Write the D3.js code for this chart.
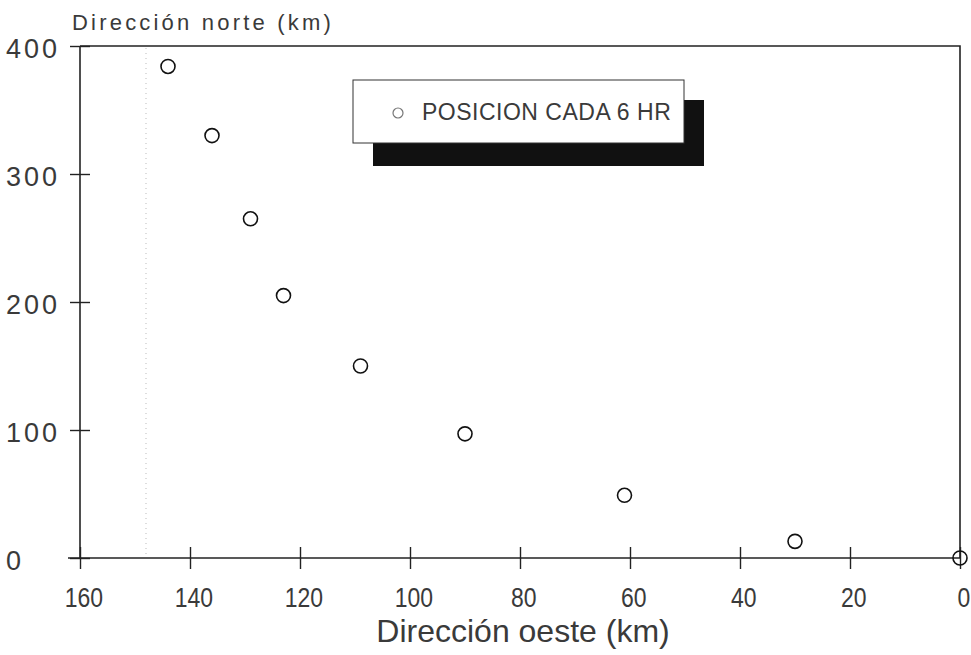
<!DOCTYPE html>
<html>
<head>
<meta charset="utf-8">
<title>Trayectoria</title>
<script src="https://cdn.jsdelivr.net/npm/d3@7/dist/d3.min.js"></script>
<style>
	body { margin: 0; background: #fff; }
	text { font-family: "Liberation Sans", Arial, sans-serif; fill: #3a3a3a; }
</style>
</head>
<body>
<div id="chartcontainer"></div>
<script>
// *****************************************************************************
// Data (km)
// *****************************************************************************
var oesteKm = [144, 136, 129, 123, 109, 90, 61, 30, 0];
var norteKm = [384, 330, 265, 205, 150, 97, 49, 13, 0];
var xTicks = [160, 140, 120, 100, 80, 60, 40, 20, 0];
var yTicks = [0, 100, 200, 300, 400];
var guideKm = 148;   // faint dotted pencil line in the scan

var yTitle = "Dirección norte (km)";
var xTitle = "Dirección oeste (km)";
var legendText = "POSICION CADA 6 HR";

var w = 971, h = 655;
var plotL = 80, plotR = 960, plotT = 46, plotB = 558;   // note: "top" is taken by window.top

var svg = d3.select("#chartcontainer")
			.append("svg")
			.attr("width", w)
			.attr("height", h);

var xScale = d3.scaleLinear().domain([160, 0]).range([plotL, plotR]);
var yScale = d3.scaleLinear().domain([0, 400]).range([plotB, plotT]);

// pencil guide line
svg.append("line")
	.attr("x1", xScale(guideKm)).attr("x2", xScale(guideKm))
	.attr("y1", plotT + 2).attr("y2", plotB - 2)
	.attr("stroke", "#bbb")
	.attr("stroke-width", 1)
	.attr("stroke-dasharray", "1,4");

// frame: top and right edges
svg.append("path")
	.attr("d", "M" + plotL + "," + plotT + "H" + plotR + "V" + plotB)
	.attr("fill", "none")
	.attr("stroke", "#222")
	.attr("stroke-width", 1.6);

// *****************************************************************************
// Axes
// *****************************************************************************
var xAxis = d3.axisBottom(xScale).tickValues(xTicks).tickSize(11).tickPadding(18).tickFormat(d3.format("d"));
var gx = svg.append("g").attr("transform", "translate(0," + plotB + ")").call(xAxis);
gx.select(".domain").attr("d", "M" + (plotL - 12) + ",0H" + plotR).attr("stroke", "#222").attr("stroke-width", 1.6);
gx.selectAll(".tick line").attr("y1", -11).attr("stroke", "#222").attr("stroke-width", 1.4);
gx.selectAll(".tick text")
	.attr("font-size", 28)
	.attr("font-family", "Liberation Sans, Arial, sans-serif")
	.attr("fill", "#3a3a3a")
	.attr("transform", "scale(0.82,1)")
	.attr("dx", 4);

var yAxis = d3.axisLeft(yScale).tickValues(yTicks).tickSize(10).tickFormat(d3.format("d"));
var gy = svg.append("g").attr("transform", "translate(" + plotL + ",0)").call(yAxis);
gy.select(".domain").attr("d", "M0," + plotT + "V" + plotB).attr("stroke", "#222").attr("stroke-width", 1.6);
gy.selectAll(".tick line").attr("x2", -10).attr("x1", 10).attr("stroke", "#222").attr("stroke-width", 1.4);
gy.selectAll(".tick text")
	.attr("font-size", 27)
	.attr("font-family", "Liberation Sans, Arial, sans-serif")
	.attr("fill", "#3a3a3a")
	.attr("text-anchor", "start")
	.attr("letter-spacing", 3)
	.attr("x", 6 - plotL)
	.attr("dy", "0.42em");

// titles
svg.append("text")
	.attr("x", 72).attr("y", 30)
	.attr("font-size", 22)
	.attr("letter-spacing", 3.2)
	.text(yTitle);

svg.append("text")
	.attr("x", (plotL + plotR) / 2 + 3).attr("y", 642)
	.attr("text-anchor", "middle")
	.attr("font-size", 32)
	.text(xTitle);

// *****************************************************************************
// Positions every 6 hours
// *****************************************************************************
svg.selectAll("circle.pos")
	.data(oesteKm)
	.enter()
	.append("circle")
	.attr("class", "pos")
	.attr("cx", function(d) { return xScale(d); })
	.attr("cy", function(d, i) { return yScale(norteKm[i]); })
	.attr("r", 7)
	.attr("fill", "none")
	.attr("stroke", "#111")
	.attr("stroke-width", 1.6);

// *****************************************************************************
// Legend with drop shadow
// *****************************************************************************
var lg = svg.append("g").attr("transform", "translate(353,80)");
lg.append("rect")
	.attr("x", 20).attr("y", 20)
	.attr("width", 331).attr("height", 66)
	.attr("fill", "#111");
lg.append("rect")
	.attr("width", 331).attr("height", 63)
	.attr("fill", "#fff")
	.attr("stroke", "#333")
	.attr("stroke-width", 1);
lg.append("circle")
	.attr("cx", 45).attr("cy", 33)
	.attr("r", 5)
	.attr("fill", "none")
	.attr("stroke", "#777")
	.attr("stroke-width", 1.2);
lg.append("text")
	.attr("x", 69).attr("y", 40)
	.attr("font-size", 23)
	.attr("letter-spacing", 0.5)
	.text(legendText);
</script>
</body>
</html>
